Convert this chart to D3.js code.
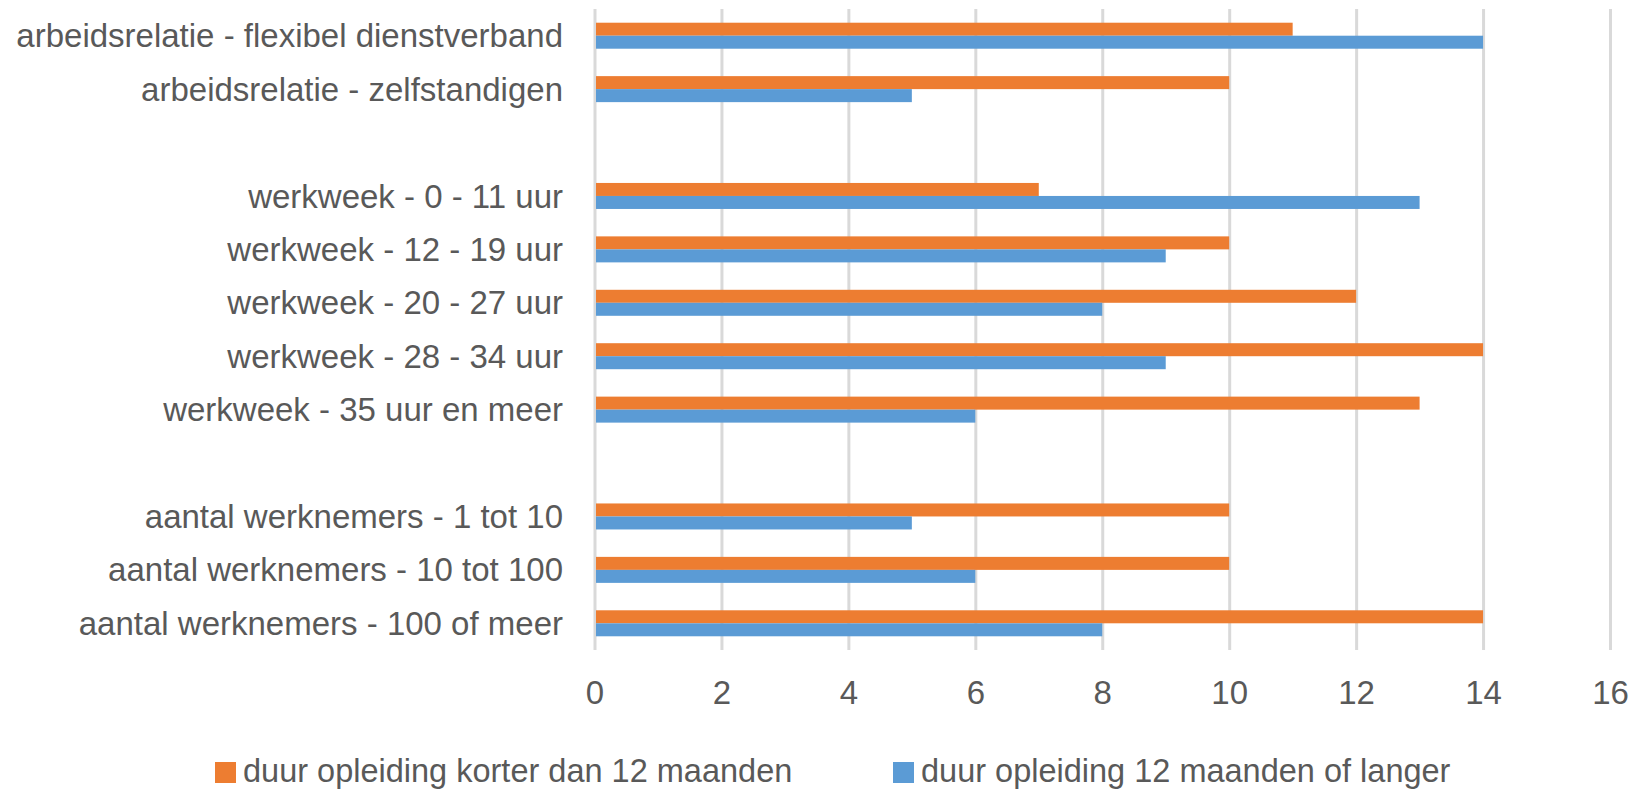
<!DOCTYPE html>
<html>
<head>
<meta charset="utf-8">
<script src="https://cdn.jsdelivr.net/npm/d3@7"></script>
<style>
  body { margin: 0; background: #fff; }
  svg { display: block; }
  text { font-family: "Liberation Sans", Arial, sans-serif; fill: #595959; }
</style>
</head>
<body>
<script>
// categories top to bottom, "" = empty spacer row
var categories = [
  "arbeidsrelatie - flexibel dienstverband",
  "arbeidsrelatie - zelfstandigen",
  "",
  "werkweek - 0 - 11 uur",
  "werkweek - 12 - 19 uur",
  "werkweek - 20 - 27 uur",
  "werkweek - 28 - 34 uur",
  "werkweek - 35 uur en meer",
  "",
  "aantal werknemers - 1 tot 10",
  "aantal werknemers - 10 tot 100",
  "aantal werknemers - 100 of meer"
];
var korter = [11, 10, null, 7, 10, 12, 14, 13, null, 10, 10, 14];
var langer = [14, 5, null, 13, 9, 8, 9, 6, null, 5, 6, 8];
var seriesNames = ["duur opleiding korter dan 12 maanden", "duur opleiding 12 maanden of langer"];
var colors = ["#ED7D31", "#5B9BD5"];
var tickVals = [0, 2, 4, 6, 8, 10, 12, 14, 16];

var width = 1638, height = 789;
var plot = {left: 594.5, right: 1610, top: 9, bottom: 650};

var svg = d3.select("body").append("svg")
    .attr("width", width)
    .attr("height", height);

var x = d3.scaleLinear().domain([0, 16]).range([plot.left, plot.right]);
var y = d3.scaleBand().domain(d3.range(categories.length)).range([plot.top, plot.bottom]);

// gridlines
var grid = svg.append("g")
    .attr("transform", "translate(0," + plot.bottom + ")")
    .call(d3.axisBottom(x).tickValues(tickVals).tickSize(-(plot.bottom - plot.top)).tickFormat(""));
grid.select(".domain").remove();
grid.selectAll("line").attr("stroke", "#D9D9D9").attr("stroke-width", 3);

// bars
var barH = 13;
var rows = categories.map(function(c, i) { return {i: i, k: korter[i], l: langer[i]}; })
    .filter(function(d) { return d.k != null; });

svg.append("g").selectAll("rect.k")
    .data(rows)
  .enter().append("rect")
    .attr("x", x(0) + 1.5)
    .attr("y", function(d) { return y(d.i) + y.bandwidth() / 2 - barH; })
    .attr("width", function(d) { return x(d.k) - x(0) - 1.5; })
    .attr("height", barH)
    .attr("fill", colors[0]);

svg.append("g").selectAll("rect.l")
    .data(rows)
  .enter().append("rect")
    .attr("x", x(0) + 1.5)
    .attr("y", function(d) { return y(d.i) + y.bandwidth() / 2; })
    .attr("width", function(d) { return x(d.l) - x(0) - 1.5; })
    .attr("height", barH)
    .attr("fill", colors[1]);

// category labels
var yAxis = svg.append("g")
    .attr("transform", "translate(563,0)")
    .call(d3.axisLeft(y).tickSize(0).tickPadding(0).tickFormat(function(i) { return categories[i]; }));
yAxis.select(".domain").remove();
yAxis.selectAll("text")
    .attr("font-size", 33)
    .attr("font-family", "Liberation Sans, Arial, sans-serif")
    .attr("fill", "#595959")
    .attr("dy", "0.35em");

// x tick labels
var xAxis = svg.append("g")
    .attr("transform", "translate(0,692)")
    .call(d3.axisBottom(x).tickValues(tickVals).tickSize(0).tickPadding(0));
xAxis.select(".domain").remove();
xAxis.selectAll("text")
    .attr("y", 0)
    .attr("dy", "0.36em")
    .attr("font-size", 33)
    .attr("font-family", "Liberation Sans, Arial, sans-serif")
    .attr("fill", "#595959");

// legend
var legendX = [215, 893];
var legend = svg.append("g").selectAll("g")
    .data(seriesNames)
  .enter().append("g")
    .attr("transform", function(d, i) { return "translate(" + legendX[i] + ",762)"; });
legend.append("rect")
    .attr("width", 21)
    .attr("height", 21)
    .attr("fill", function(d, i) { return colors[i]; });
legend.append("text")
    .attr("x", 28)
    .attr("y", 20)
    .attr("font-size", 32.5)
    .text(function(d) { return d; });
</script>
</body>
</html>
